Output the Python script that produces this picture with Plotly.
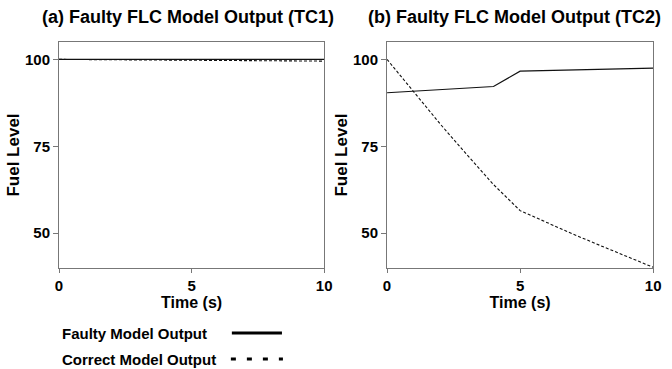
import plotly.graph_objects as go

# Data
tc1_time_faulty = [0, 10]
tc1_faulty = [100, 100]
tc1_time_correct = [0, 10]
tc1_correct = [100, 99.5]

tc2_time_faulty = [0, 4, 5, 10]
tc2_faulty = [90.4, 92.2, 96.6, 97.5]
tc2_time_correct = [0, 1, 2, 3, 4, 5, 6, 7, 8, 9, 10]
tc2_correct = [100, 90.6, 81.4, 72.6, 64.0, 56.5, 53.0, 49.7, 46.5, 43.3, 40.2]

x_ticks = [0, 5, 10]
y_ticks = [50, 75, 100]
titles = ["(a) Faulty FLC Model Output (TC1)", "(b) Faulty FLC Model Output (TC2)"]
legend_labels = ["Faulty Model Output", "Correct Model Output"]

FONT = "Liberation Sans, Arial, Helvetica, sans-serif"
W, H = 672, 369

def px(x):
    return x / W

def py(y):
    return 1 - y / H

fig = go.Figure()
line_faulty = dict(color="#111111", width=1.2)
line_correct = dict(color="#111111", width=1.1, dash="3px,2px")

fig.add_trace(go.Scatter(x=tc1_time_faulty, y=tc1_faulty, mode="lines", line=line_faulty, xaxis="x", yaxis="y", showlegend=False))
fig.add_trace(go.Scatter(x=tc1_time_correct, y=tc1_correct, mode="lines", line=line_correct, xaxis="x", yaxis="y", showlegend=False))
fig.add_trace(go.Scatter(x=tc2_time_faulty, y=tc2_faulty, mode="lines", line=line_faulty, xaxis="x2", yaxis="y2", showlegend=False))
fig.add_trace(go.Scatter(x=tc2_time_correct, y=tc2_correct, mode="lines", line=line_correct, xaxis="x2", yaxis="y2", showlegend=False))

tickfont = dict(family=FONT, size=15, color="black", weight="bold")
xtitlefont = dict(family=FONT, size=16, color="black", weight="bold")
ytitlefont = dict(family=FONT, size=17, color="black", weight="bold")

def xaxis(domain, anchor):
    return dict(domain=domain, anchor=anchor, range=[0, 10], tickvals=x_ticks,
                showgrid=False, zeroline=False, showline=True, mirror=True,
                linecolor="#777777", linewidth=1, ticks="outside", ticklen=4,
                tickcolor="#777777", tickfont=tickfont,
                title=dict(text="Time (s)", font=xtitlefont, standoff=0))

def yaxis(domain, anchor):
    return dict(domain=domain, anchor=anchor, range=[40, 105], tickvals=y_ticks,
                showgrid=False, zeroline=False, showline=True, mirror=True,
                linecolor="#777777", linewidth=1, ticks="outside", ticklen=5,
                tickcolor="#777777", tickfont=tickfont,
                title=dict(text="Fuel Level", font=ytitlefont, standoff=1))

ydom = [py(268), py(42)]
fig.update_layout(
    width=W, height=H,
    margin=dict(l=0, r=0, t=0, b=0),
    paper_bgcolor="white", plot_bgcolor="white",
    xaxis=xaxis([px(56), px(326)], "y"),
    yaxis=yaxis(ydom, "x"),
    xaxis2=xaxis([px(390), px(661)], "y2"),
    yaxis2=yaxis(ydom, "x2"),
    showlegend=False,
)

title_font = dict(family=FONT, size=18, color="black", weight="bold")
legend_font = dict(family=FONT, size=15, color="black", weight="bold")
annotations = [
    dict(text=titles[0], x=px(187), y=py(17), xref="paper", yref="paper",
         showarrow=False, xanchor="center", yanchor="middle", font=title_font),
    dict(text=titles[1], x=px(520), y=py(17), xref="paper", yref="paper",
         showarrow=False, xanchor="center", yanchor="middle", font=title_font),
    dict(text=legend_labels[0], x=px(57), y=py(333), xref="paper", yref="paper",
         showarrow=False, xanchor="left", yanchor="middle", font=legend_font),
    dict(text=legend_labels[1], x=px(57), y=py(359), xref="paper", yref="paper",
         showarrow=False, xanchor="left", yanchor="middle", font=legend_font),
]
fig.update_layout(annotations=annotations)

shapes = [
    dict(type="line", xref="paper", yref="paper", x0=px(232), x1=px(283), y0=py(333), y1=py(333),
         line=dict(color="black", width=3)),
    dict(type="line", xref="paper", yref="paper", x0=px(231), x1=px(284), y0=py(359), y1=py(359),
         line=dict(color="black", width=3, dash="5px,11px")),
]
fig.update_layout(shapes=shapes)

fig.write_html(
    "out.html",
    config={"displayModeBar": False},
    post_script="document.body.style.margin='0';document.body.style.padding='0';",
)
